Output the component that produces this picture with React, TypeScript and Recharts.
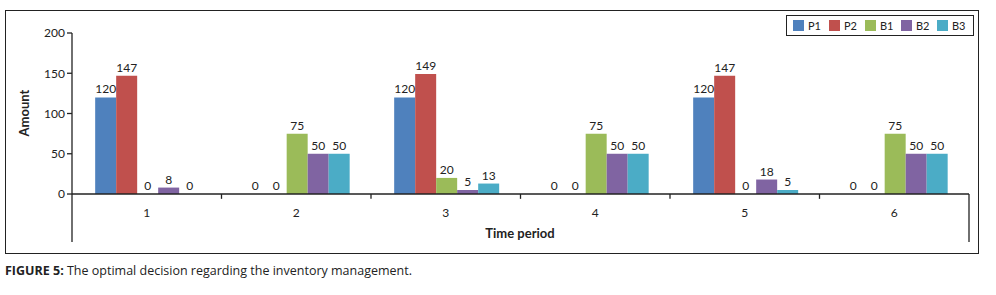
import React from "react";
import {
  BarChart,
  Bar,
  XAxis,
  YAxis,
  Legend,
  LabelList,
  ReferenceLine
} from "recharts";

const periods = ["1", "2", "3", "4", "5", "6"];
const p1 = [120, 0, 120, 0, 120, 0];
const p2 = [147, 0, 149, 0, 147, 0];
const b1 = [0, 75, 20, 75, 0, 75];
const b2 = [8, 50, 5, 50, 18, 50];
const b3 = [0, 50, 13, 50, 5, 50];
const yTicks = [0, 50, 100, 150, 200];

const seriesNames = ["P1", "P2", "B1", "B2", "B3"];
const seriesColors = ["#4F81BD", "#C0504D", "#9BBB59", "#8064A2", "#4BACC6"];

const data = periods.map((name, i) => ({
  name,
  P1: p1[i],
  P2: p2[i],
  B1: b1[i],
  B2: b2[i],
  B3: b3[i]
}));

const FONT = "Lato, 'Open Sans', sans-serif";
const INK = "#222";
// axis floor below zero, so the y axis line runs down past the period labels
const FLOOR = -59.6;

const renderLegend = () => (
  <div
    style={{
      display: "flex",
      alignItems: "center",
      width: 188,
      height: 21,
      boxSizing: "border-box",
      border: "1.5px solid " + INK,
      paddingLeft: 6,
      fontFamily: FONT,
      fontSize: 11,
      color: INK,
      background: "#fff"
    }}
  >
    {seriesNames.map((n, i) => (
      <div key={n} style={{display: "flex", alignItems: "center", width: 37}}>
        <span style={{width: 11, height: 11, background: seriesColors[i], marginRight: 4}}/>
        <span>{n}</span>
      </div>
    ))}
  </div>
);

// value label centred over the bar, also for the zero bars
const renderValue = (props: any) => {
  const {x, y, width, height, value} = props;
  const top = Math.min(Number(y), Number(y) + Number(height));
  return (
    <text
      x={Number(x) + Number(width) / 2}
      y={top - 4}
      textAnchor="middle"
      fontSize={12}
      fontFamily={FONT}
      fill={INK}
    >
      {value}
    </text>
  );
};

const App = () => {
  return (
    <div style={{position: "absolute", left: 0, top: 0, width: 996, height: 295, background: "#fff"}}>
      <div
        style={{
          position: "absolute",
          left: 5,
          top: 10,
          width: 974,
          height: 244,
          boxSizing: "border-box",
          border: "1.5px solid " + INK
        }}
      />
      <div style={{position: "absolute", left: 0, top: 0}}>
        <BarChart
          width={996}
          height={295}
          data={data}
          margin={{top: 33, right: 27, left: 32, bottom: 23}}
          barCategoryGap="15.5%"
          barGap={0}
        >
          <XAxis
            dataKey="name"
            height={30}
            axisLine={false}
            tickLine={false}
            tick={{fontSize: 12, fill: INK, fontFamily: FONT, dy: -42}}
            label={{
              content: () => (
                <text x={520} y={238} textAnchor="middle" fontFamily={FONT} fontSize={13} fontWeight="bold" fill={INK}>
                  Time period
                </text>
              )
            }}
          />
          <YAxis
            width={40}
            domain={[FLOOR, 200]}
            ticks={yTicks}
            tickSize={5}
            axisLine={{stroke: INK, strokeWidth: 1.3}}
            tickLine={{stroke: INK, strokeWidth: 1.3}}
            tick={{fontSize: 12, fill: INK, fontFamily: FONT}}
            label={{
              content: () => (
                <text
                  x={29}
                  y={113}
                  transform="rotate(-90 29 113)"
                  textAnchor="middle"
                  fontFamily={FONT}
                  fontSize={13}
                  fontWeight="bold"
                  fill={INK}
                >
                  Amount
                </text>
              )
            }}
          />
          <Legend layout="vertical" align="center" verticalAlign="middle" content={renderLegend}
                  wrapperStyle={{left: 786, top: 15, width: 188}}/>
          {seriesNames.map((n, i) => (
            <Bar key={n} dataKey={n} fill={seriesColors[i]} minPointSize={0.01} isAnimationActive={false}>
              <LabelList dataKey={n} content={renderValue}/>
            </Bar>
          ))}
          <ReferenceLine y={0} stroke={INK} strokeWidth={1.3}/>
          {periods.slice(1).map((p) => (
            <ReferenceLine
              key={p}
              segment={[{x: p, y: 0}, {x: p, y: -6}]}
              position="start"
              stroke={INK}
              strokeWidth={1.3}
            />
          ))}
          <ReferenceLine
            segment={[{x: "6", y: 0}, {x: "6", y: FLOOR}]}
            position="end"
            stroke={INK}
            strokeWidth={1.3}
          />
        </BarChart>
      </div>
      <div
        style={{
          position: "absolute",
          left: 5,
          top: 262,
          fontFamily: "'Open Sans', sans-serif",
          fontSize: 12.5,
          color: INK
        }}
      >
        <b>FIGURE 5:</b> The optimal decision regarding the inventory management.
      </div>
    </div>
  );
};

export default App;
